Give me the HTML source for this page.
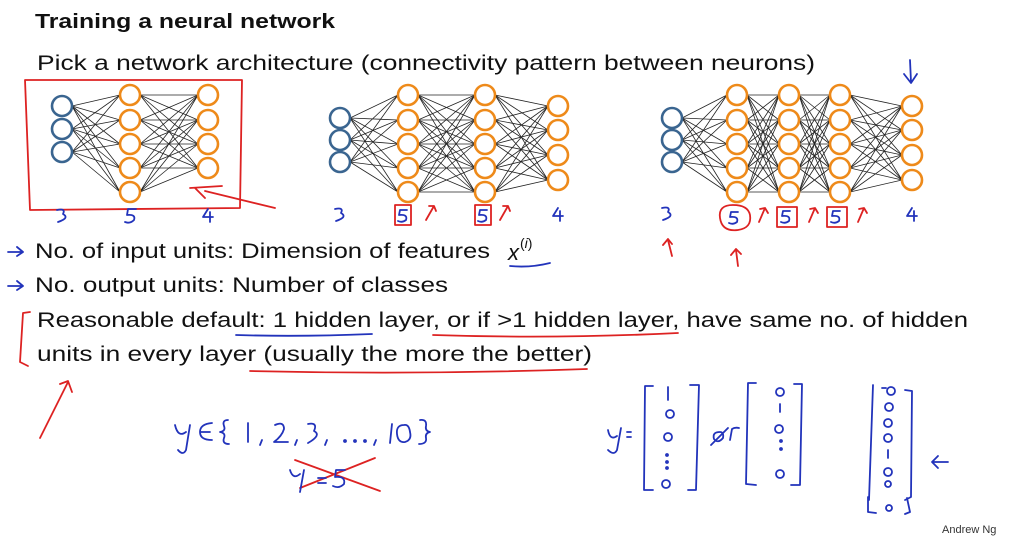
<!DOCTYPE html>
<html><head><meta charset="utf-8"><style>
html,body{margin:0;padding:0;background:#fff;}
svg{display:block;}
text{font-family:"Liberation Sans",sans-serif;}
</style></head><body>
<svg id="s" width="1013" height="544" viewBox="0 0 1013 544" xmlns="http://www.w3.org/2000/svg">
<rect width="1013" height="544" fill="#fff"/>
<g id="lines" stroke="#222" stroke-width="0.8"></g>
<g id="nodes" stroke-width="2.6" fill="#fff"></g>

<text x="35" y="28" font-size="20" font-weight="bold" fill="#111" textLength="300" lengthAdjust="spacingAndGlyphs">Training a neural network</text>
<text x="37" y="70" font-size="21" fill="#111" textLength="778" lengthAdjust="spacingAndGlyphs">Pick a network architecture (connectivity pattern between neurons)</text>
<text x="35" y="258" font-size="21" fill="#111" textLength="455" lengthAdjust="spacingAndGlyphs">No. of input units: Dimension of features</text>
<text x="508" y="260" font-size="22" font-style="italic" font-family="Liberation Serif,serif" fill="#111">x</text>
<text x="520" y="248" font-size="14" font-family="Liberation Serif,serif" fill="#111">(<tspan font-style="italic">i</tspan>)</text>
<text x="35" y="292" font-size="21" fill="#111" textLength="413" lengthAdjust="spacingAndGlyphs">No. output units: Number of classes</text>
<text x="37" y="327" font-size="21" fill="#111" textLength="931" lengthAdjust="spacingAndGlyphs">Reasonable default: 1 hidden layer, or if &gt;1 hidden layer, have same no. of hidden</text>
<text x="37" y="361" font-size="21" fill="#111" textLength="555" lengthAdjust="spacingAndGlyphs">units in every layer (usually the more the better)</text>
<text x="942" y="533" font-size="11" fill="#333">Andrew Ng</text>

<g fill="none" stroke-linecap="round" stroke-linejoin="round">
<g stroke="#2233bb" stroke-width="1.8">
<path d="M8 252 L22 252 M17 247 L23 252 L17 256"/>
<path d="M8 286 L22 286 M17 281 L23 286 L17 290"/>
<path d="M510 266 Q530 268 550 263"/>
<path d="M236 335 Q300 337 372 334"/>
</g>
<g stroke="#dd2222" stroke-width="1.8">
<path d="M25 80 L242 80 L240 208 L30 210 Z"/>
<path d="M190 188 L222 186 M195 188 L205 198 M205 191 L275 208"/>
<path d="M30 312 L23 313 L20 362 L28 366"/>
<path d="M433 335 Q555 339 678 333"/>
<path d="M250 371 Q420 375 587 369"/>
<path d="M40 438 L68 382 M60 384 L68 381 L72 392"/>
<rect x="395" y="205" width="16" height="20"/>
<rect x="475" y="205" width="16" height="20"/>
<path d="M426 220 L434 206 M429 206 L434 206 L436 211"/>
<path d="M500 220 L508 206 M503 206 L508 206 L510 211"/>
<path d="M733 205 Q718 205 720 218 Q722 232 738 230 Q752 228 750 215 Q748 205 733 205"/>
<rect x="777" y="207" width="20" height="20"/>
<rect x="827" y="207" width="20" height="20"/>
<path d="M759 222 L765 208 M760 209 L765 208 L768 213"/>
<path d="M809 222 L815 208 M810 209 L815 208 L818 213"/>
<path d="M858 222 L864 208 M859 209 L864 208 L867 213"/>
<path d="M672 256 L668 240 M663 245 L668 239 L672 244"/>
<path d="M738 266 L736 250 M731 255 L736 249 L741 254"/>
<path d="M300 488 L375 458 M295 460 L380 491"/>
</g>
<g stroke="#2233bb" stroke-width="1.8">
<path d="M57 210 Q66 208 63 214 Q70 218 58 222"/>
<path d="M136 209 L128 209 L127 215 Q136 214 134 220 Q130 224 125 222"/>
<path d="M208 209 L203 217 L213 217 M210 212 L210 222"/>
<path d="M335 209 Q344 207 341 213 Q348 217 336 221"/>
<path d="M407 210 L400 210 L399 215 Q408 214 406 220 Q402 223 398 221"/>
<path d="M487 210 L480 210 L479 215 Q488 214 486 220 Q482 223 478 221"/>
<path d="M558 208 L553 216 L563 216 M560 211 L560 221"/>
<path d="M662 208 Q671 206 668 212 Q675 216 663 220"/>
<path d="M738 212 L731 212 L730 217 Q739 216 737 222 Q733 225 729 223"/>
<path d="M790 211 L783 211 L782 216 Q791 215 789 221 Q785 224 781 222"/>
<path d="M840 211 L833 211 L832 216 Q841 215 839 221 Q835 224 831 222"/>
<path d="M912 208 L907 216 L917 216 M914 211 L914 221"/>
<path d="M910 60 L911 82 M904 74 L911 83 L917 74"/>
<path d="M175 425 Q178 438 186 432 M190 425 L186 450 Q183 456 178 450"/>
<path d="M212 423 Q200 424 200 432 Q200 440 212 440 M200 432 L210 432"/>
<path d="M228 420 Q222 420 224 426 Q226 431 220 432 Q226 433 224 438 Q222 444 229 444"/>
<path d="M248 423 L248 442"/>
<path d="M262 440 L260 445"/>
<path d="M275 425 Q284 421 284 429 Q282 436 274 442 L288 442"/>
<path d="M297 440 L295 445"/>
<path d="M308 424 Q318 422 314 431 Q322 435 308 443"/>
<path d="M327 440 L325 445"/>
<circle cx="345" cy="441" r="1"/><circle cx="355" cy="441" r="1"/><circle cx="365" cy="441" r="1"/>
<path d="M376 440 L374 445"/>
<path d="M392 424 L390 443"/>
<path d="M404 425 Q396 425 397 434 Q398 443 405 442 Q412 440 410 432 Q409 424 404 425"/>
<path d="M420 420 Q427 419 426 426 Q425 431 430 432 Q425 433 426 438 Q427 444 419 444"/>
<g transform="translate(0,28)">
<path d="M290 442 Q293 452 300 446 M304 442 L300 464"/>
<path d="M318 450 L326 450 M318 455 L326 455"/>
<path d="M345 442 L336 442 L335 449 Q346 448 344 456 Q339 461 333 458"/>
</g>
<path d="M608 430 Q610 441 617 436 M621 428 L617 450 Q614 456 608 450"/>
<path d="M627 432 L631 432 M627 437 L631 437"/>
<path d="M653 386 L645 386 L644 490 L653 490"/>
<path d="M690 385 L699 385 L696 490 L688 490"/>
<path d="M668 387 L668 400"/>
<circle cx="670" cy="414" r="4"/><circle cx="668" cy="437" r="4"/>
<circle cx="667" cy="455" r="1"/><circle cx="667" cy="462" r="1"/><circle cx="667" cy="468" r="1"/>
<circle cx="666" cy="484" r="4"/>
<path d="M720 432 Q712 432 714 439 Q718 444 723 438 Q724 432 720 432 M711 445 L728 428 M730 440 L732 429 Q735 427 739 428"/>
<path d="M756 383 L748 383 L746 484 L756 485"/>
<path d="M794 384 L802 384 L800 485 L791 485"/>
<circle cx="780" cy="392" r="4"/>
<path d="M780 404 L780 412"/>
<circle cx="779" cy="429" r="4"/>
<circle cx="781" cy="441" r="1"/><circle cx="781" cy="449" r="1"/>
<circle cx="780" cy="474" r="4"/>
<path d="M873 385 L869 500 M868 497 L868 512 L876 513 M905 390 L912 391 L911 497 L905 500 M907 498 L910 512 L905 514"/>
<path d="M882 388 L886 388"/>
<circle cx="891" cy="391" r="4"/><circle cx="889" cy="407" r="4"/><circle cx="888" cy="423" r="4"/><circle cx="888" cy="438" r="4"/>
<path d="M888 450 L888 458"/>
<circle cx="888" cy="472" r="4"/><circle cx="888" cy="484" r="3"/><circle cx="889" cy="508" r="3"/>
<path d="M948 462 L932 462 M938 456 L932 462 L938 468"/>
</g>
</g>
</svg>
<script>
var NS="http://www.w3.org/2000/svg";
var L=document.getElementById('lines'),N=document.getElementById('nodes');
function col(x,ys){return ys.map(function(y){return [x,y];});}
var H=[95,120,144,168,192],O=[95,120,144,168],I=[106,129,152],I2=[118,140,162],O2=[106,130,155,180];
var nets=[
 [col(62,I),col(130,H),col(208,O)],
 [col(340,I2),col(408,H),col(485,H),col(558,O2)],
 [col(672,I2),col(737,H),col(789,H),col(840,H),col(912,O2)]
];
nets.forEach(function(net){
 for(var i=0;i<net.length-1;i++)net[i].forEach(function(a){net[i+1].forEach(function(b){
  var l=document.createElementNS(NS,'line');l.setAttribute('x1',a[0]+10);l.setAttribute('y1',a[1]);l.setAttribute('x2',b[0]-10);l.setAttribute('y2',b[1]);L.appendChild(l);});});
 net.forEach(function(layer,i){layer.forEach(function(p){
  var c=document.createElementNS(NS,'circle');c.setAttribute('cx',p[0]);c.setAttribute('cy',p[1]);c.setAttribute('r',10);
  c.setAttribute('stroke',i==0?'#3a6590':'#ee8a1a');N.appendChild(c);});});
});
</script>
</body></html>
